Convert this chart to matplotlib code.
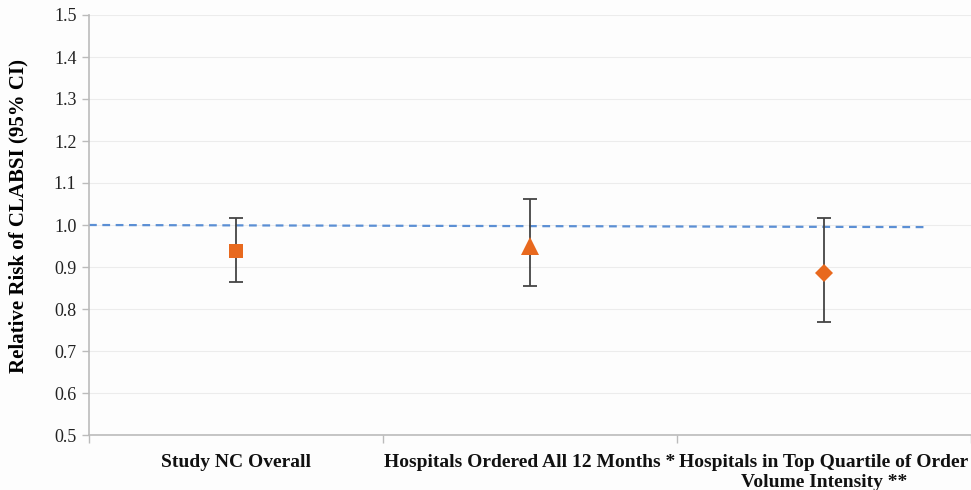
import matplotlib
matplotlib.use("Agg")
import matplotlib.pyplot as plt
import numpy as np

categories = ["Study NC Overall",
              "Hospitals Ordered All 12 Months *",
              "Hospitals in Top Quartile of Order\nVolume Intensity **"]
rr = [0.939, 0.950, 0.885]
ci_low = [0.864, 0.855, 0.770]
ci_high = [1.016, 1.063, 1.016]
markers = ["s", "^", "D"]
ref_x = [0.5, 3.343]
ref_y = [1.0, 0.995]
yticks = [0.5, 0.6, 0.7, 0.8, 0.9, 1.0, 1.1, 1.2, 1.3, 1.4, 1.5]

plt.rcParams['font.family'] = ['Liberation Serif', 'DejaVu Serif']

fig = plt.figure(figsize=(9.71, 4.9), dpi=100)
fig.patch.set_facecolor('#fdfdfd')
ax = fig.add_axes([89/971, 1-435/490, 1-89/971, (435-15)/490])
ax.set_facecolor('#fdfdfd')

x = np.arange(1, len(categories)+1)
for i in range(len(categories)):
    ax.errorbar(x[i], rr[i], yerr=[[rr[i]-ci_low[i]], [ci_high[i]-rr[i]]],
                fmt='none', ecolor='#444444', elinewidth=1.3, capsize=5, capthick=1.3, zorder=3)
    ms = 10 if markers[i] == "s" else (12.5 if markers[i] == "^" else 9.5)
    ax.plot(x[i], rr[i], marker=markers[i], color='#E8691E', markersize=ms,
            linestyle='none', zorder=4, markeredgewidth=0)

ax.plot(ref_x, ref_y, linestyle=(0, (3.5, 2.5)), color='#5B8FD4', linewidth=1.6, zorder=2)

ax.set_xlim(0.5, 3.5)
ax.set_ylim(0.5, 1.5)
ax.set_yticks(yticks)
ax.set_yticklabels([f"{v:.1f}" for v in yticks], fontsize=13, color='#222222')
ax.yaxis.grid(True, color='#ececec', linewidth=0.8)
ax.set_axisbelow(True)

ax.set_xticks([0.5, 1.5, 2.5, 3.5])
ax.set_xticklabels([])
ax.set_xticks(x, minor=True)
ax.set_xticklabels(categories, minor=True, fontsize=14, fontweight='bold', color='#111111',
                   linespacing=1.2)
ax.tick_params(axis='x', which='minor', length=0, pad=14)
ax.tick_params(axis='x', which='major', length=6, color='#bbbbbb', width=1)
ax.tick_params(axis='y', length=5, color='#bbbbbb', width=1, pad=4)

for s in ['top', 'right']:
    ax.spines[s].set_visible(False)
for s in ['left', 'bottom']:
    ax.spines[s].set_color('#bbbbbb')
    ax.spines[s].set_linewidth(1.2)

ax.set_ylabel("Relative Risk of CLABSI (95% CI)", fontsize=15, fontweight='bold')
ax.yaxis.set_label_coords((28 - 89) / 882, (435 - 216) / 420)

fig.savefig("out.png", dpi=100, facecolor=fig.get_facecolor())
